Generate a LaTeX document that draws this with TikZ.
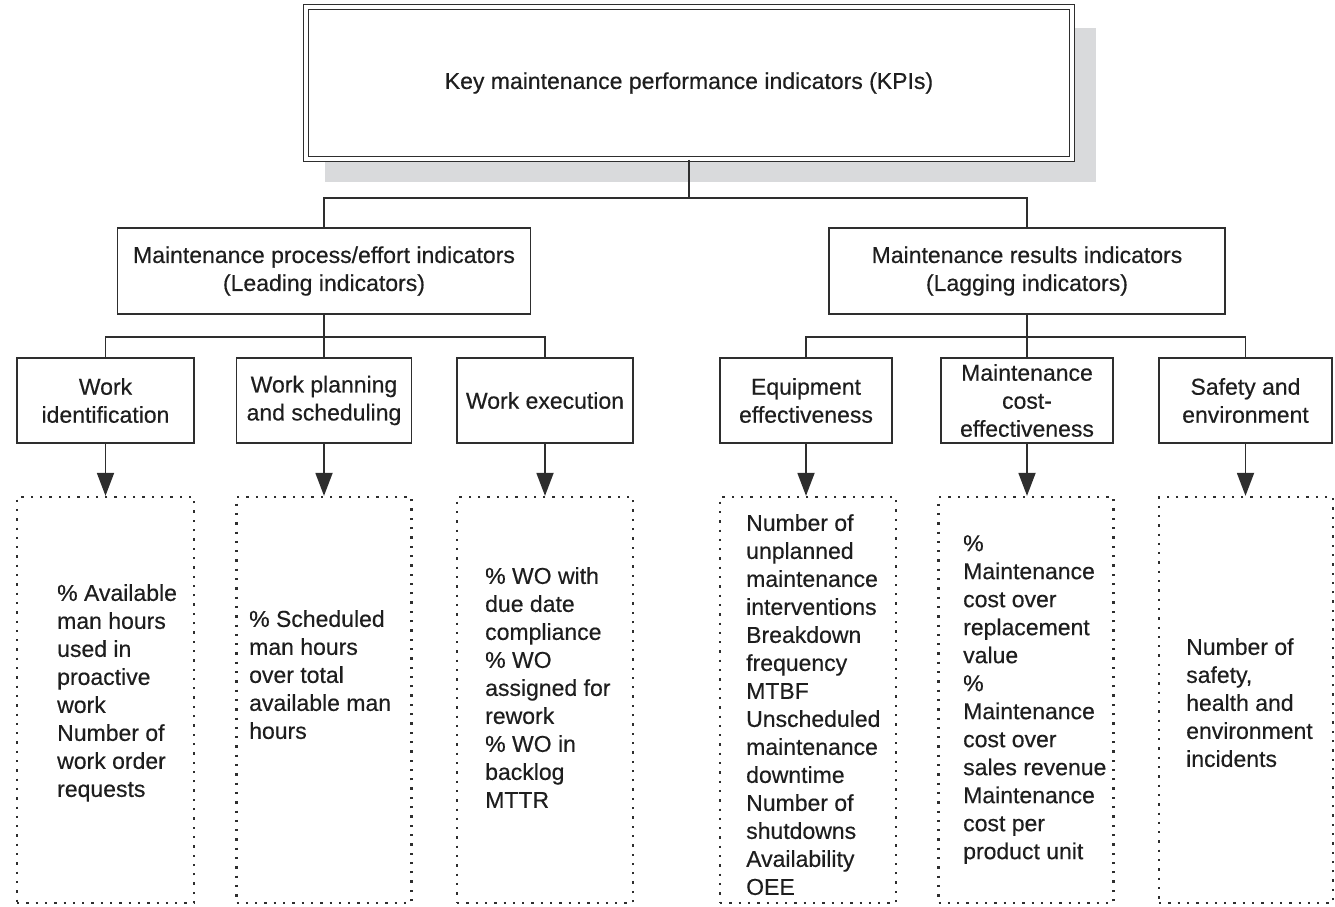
\documentclass[tikz,border=0pt]{standalone}
\usepackage{fontspec}
\setmainfont{Liberation Sans}
\usetikzlibrary{arrows.meta}

\definecolor{linec}{HTML}{2E2E2E}
\definecolor{textc}{HTML}{1E1E1E}
\definecolor{shadowc}{HTML}{D9DADC}

\begin{document}
\begin{tikzpicture}[x=1pt,y=-1pt,
  every node/.style={text=textc},
  txt/.style={font=\fontsize{23}{28}\selectfont\addfontfeature{FakeBold=0.4}},
  box/.style={draw=linec, line width=1.8pt, fill=white, align=center,
              inner sep=0pt, txt},
  dotbox/.style={draw=linec, line width=2.3pt, dash pattern=on 2.3pt off 7pt,
                 inner sep=0pt},
  list/.style={txt, align=left, anchor=north west, inner sep=0pt},
  link/.style={draw=linec, line width=1.8pt},
  arrow/.style={link, -{Triangle[length=23pt,width=17pt]}}
]
\useasboundingbox (0,0) rectangle (1335,906);

% top box with drop shadow and double border
\fill[shadowc] (325,28) rectangle (1096,182);
\node[box, double=white, double distance=3.5pt, line width=1.7pt,
      minimum width=766pt, minimum height=152pt] (kpi) at (689,83)
  {Key maintenance performance indicators (KPIs)};

% second level
\node[box, minimum width=413pt, minimum height=86pt] (lead) at (324,271)
  {Maintenance process/effort indicators\\(Leading indicators)};
\node[box, minimum width=396pt, minimum height=86pt] (lag) at (1027,271)
  {Maintenance results indicators\\(Lagging indicators)};

% third level
\node[box, minimum width=177pt, minimum height=85pt] (w1) at (105.5,400.5)
  {Work\\identification};
\node[box, minimum width=175pt, minimum height=85pt] (w2) at (324,400.5)
  {Work planning\\and scheduling};
\node[box, minimum width=176pt, minimum height=85pt] (w3) at (545,400.5)
  {Work execution};
\node[box, minimum width=172pt, minimum height=85pt] (e1) at (806,400.5)
  {Equipment\\effectiveness};
\node[box, minimum width=172pt, minimum height=85pt] (e2) at (1027,400.5)
  {Maintenance\\cost-\\effectiveness};
\node[box, minimum width=173pt, minimum height=85pt] (e3) at (1245.5,400.5)
  {Safety and\\environment};

% dotted indicator panels
\node[dotbox, minimum width=177pt, minimum height=406pt] (d1) at (105.5,700) {};
\node[dotbox, minimum width=175pt, minimum height=406pt] (d2) at (324,700) {};
\node[dotbox, minimum width=176pt, minimum height=406pt] (d3) at (545,700) {};
\node[dotbox, minimum width=176pt, minimum height=406pt] (d4) at (808,700) {};
\node[dotbox, minimum width=175pt, minimum height=406pt] (d5) at (1026,700) {};
\node[dotbox, minimum width=174pt, minimum height=406pt] (d6) at (1246,700) {};

% indicator lists
\node[list] (t1) at (57,584)
  {\% Available\\man hours\\used in\\proactive\\work\\Number of\\work order\\requests};
\node[list] (t2) at (249,610)
  {\% Scheduled\\man hours\\over total\\available man\\hours};
\node[list] (t3) at (485,567)
  {\% WO with\\due date\\compliance\\\% WO\\assigned for\\rework\\\% WO in\\backlog\\MTTR};
\node[list] (t4) at (746,514)
  {Number of\\unplanned\\maintenance\\interventions\\Breakdown\\frequency\\MTBF\\Unscheduled\\maintenance\\downtime\\Number of\\shutdowns\\Availability\\OEE};
\node[list] (t5) at (963,535)
  {\%\\Maintenance\\cost over\\replacement\\value\\\%\\Maintenance\\cost over\\sales revenue\\Maintenance\\cost per\\product unit};
\node[list] (t6) at (1186,638)
  {Number of\\safety,\\health and\\environment\\incidents};

% tree connectors
\coordinate (j0) at (688,198);
\coordinate (j1) at (324,337);
\coordinate (j2) at (1027,337);
\draw[link] (kpi.south) -- (kpi.south |- j0);
\draw[link] (lead.north) |- (j0) -| (lag.north);
\draw[link] (lead.south) -- (w2.north);
\draw[link] (w1.north) |- (j1) -| (w3.north);
\draw[link] (lag.south) -- (e2.north);
\draw[link] (e1.north) |- (j2) -| (e3.north);

% arrows into the panels
\draw[arrow] (w1.south) -- (d1.north -| w1.south);
\draw[arrow] (w2.south) -- (d2.north -| w2.south);
\draw[arrow] (w3.south) -- (d3.north -| w3.south);
\draw[arrow] (e1.south) -- (d4.north -| e1.south);
\draw[arrow] (e2.south) -- (d5.north -| e2.south);
\draw[arrow] (e3.south) -- (d6.north -| e3.south);
\end{tikzpicture}
\end{document}
